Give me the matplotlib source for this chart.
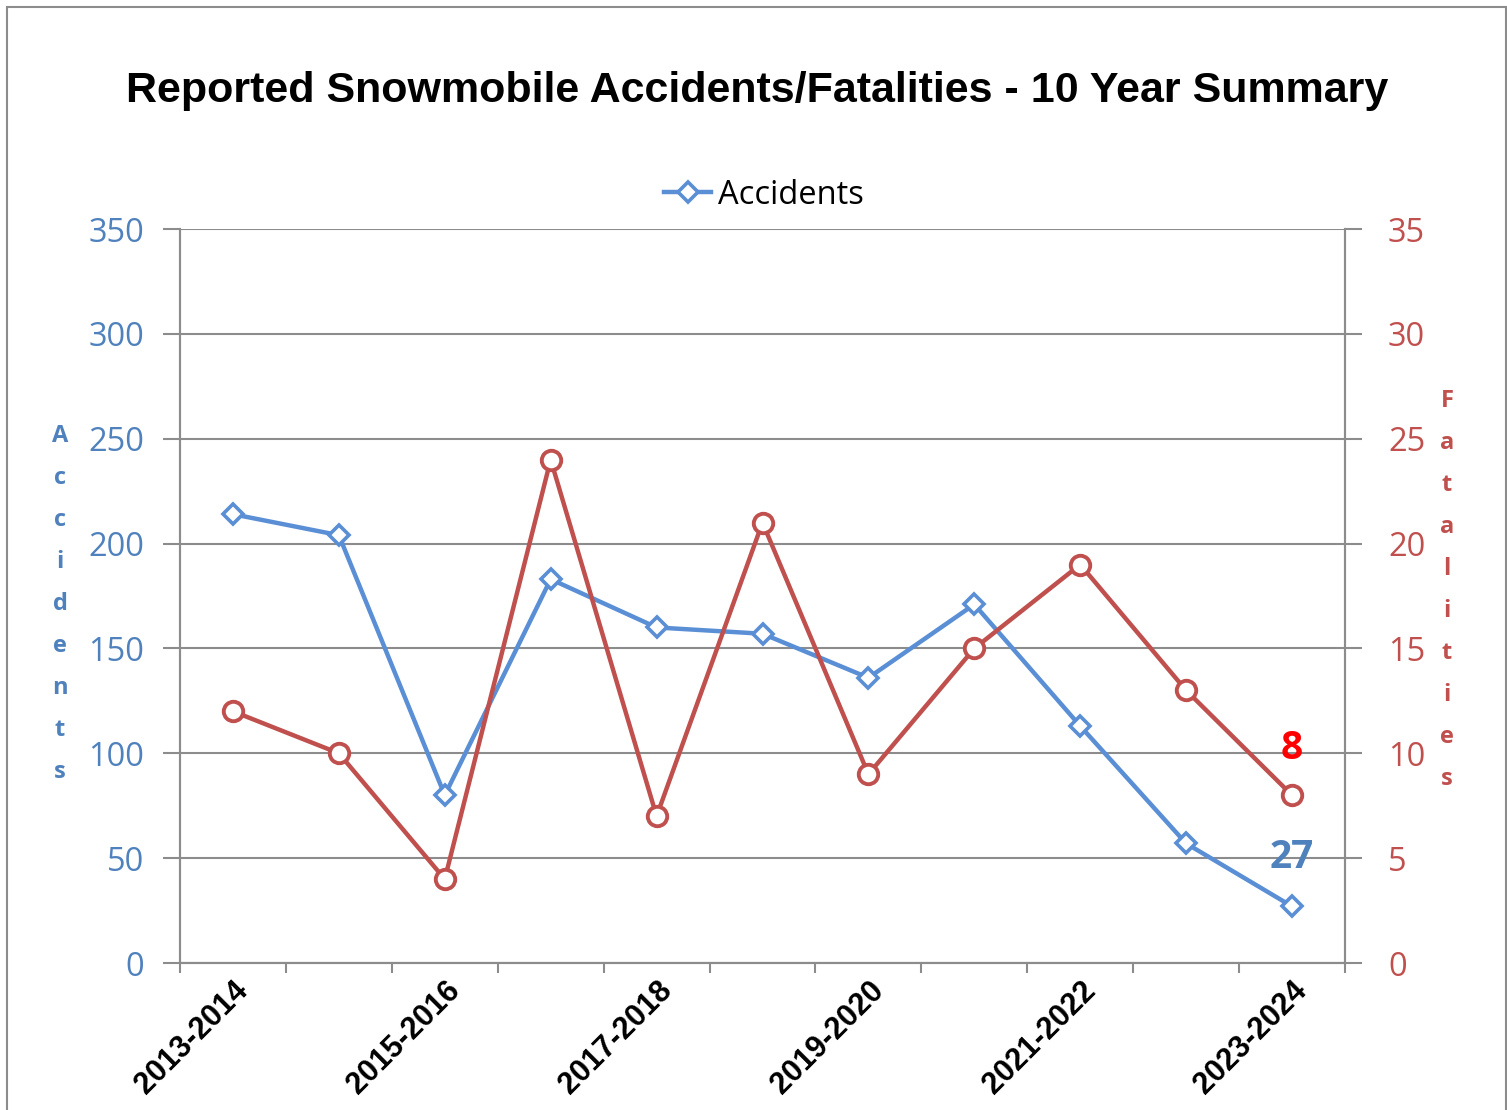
import matplotlib.pyplot as plt
from matplotlib.patches import Rectangle

# data
seasons = ['2013-2014', '2014-2015', '2015-2016', '2016-2017', '2017-2018',
           '2018-2019', '2019-2020', '2020-2021', '2021-2022', '2022-2023',
           '2023-2024']
accidents = [214, 204, 80, 183, 160, 157, 136, 171, 113, 57, 27]
fatalities = [12, 10, 4, 24, 7, 21, 9, 15, 19, 13, 8]

BLUE = '#5A8FD6'
BLUE_TXT = '#4F81BD'
RED = '#C0504D'
GRID = '#8C8C8C'

W, H = 1507, 1110
fig = plt.figure(figsize=(W / 100, H / 100), dpi=100)

# outer chart border
fig.patches.append(Rectangle((7 / W, -0.01), (1506 - 7) / W, 1 - 7 / H + 0.01,
                             transform=fig.transFigure, fill=False,
                             edgecolor='#8C8C8C', linewidth=1.5))

ax = fig.add_axes([180 / W, 1 - 963 / H, (1345 - 180) / W, (963 - 229) / H])
ax2 = ax.twinx()

x = list(range(len(seasons)))

ax.plot(x, accidents, color=BLUE, linewidth=3.2, marker='D', markersize=10,
        markerfacecolor='white', markeredgecolor=BLUE, markeredgewidth=2.6,
        label='Accidents', zorder=3)
ax2.plot(x, fatalities, color=RED, linewidth=3.2, marker='o', markersize=14,
         markerfacecolor='white', markeredgecolor=RED, markeredgewidth=2.8,
         zorder=3)

ax.set_xlim(-0.5, len(seasons) - 0.5)
ax.set_ylim(0, 350)
ax2.set_ylim(0, 35)
ax.set_yticks(range(0, 351, 50))
ax2.set_yticks(range(0, 36, 5))

# category boundaries as tick marks, labels every other season
ax.set_xticks([i - 0.5 for i in range(len(seasons) + 1)])
ax.set_xticklabels([])
ax.set_xticks(x[::2], minor=True)
ax.set_xticklabels(seasons[::2], minor=True, rotation=45, ha='right',
                   va='top', rotation_mode='anchor', fontsize=22,
                   fontweight='bold', family='Liberation Sans')
ax.tick_params(axis='x', which='major', direction='out', length=7,
               color=GRID, width=1.5)
ax.tick_params(axis='x', which='minor', length=0, pad=9)

ax.grid(axis='y', color=GRID, linewidth=1.5)
ax.set_axisbelow(True)
ax.tick_params(axis='y', direction='out', length=12, color=GRID, width=1.5,
               labelcolor=BLUE_TXT, labelsize=23.5, pad=14)
ax2.tick_params(axis='y', direction='out', length=12, color=GRID, width=1.5,
                labelcolor=RED, labelsize=23.5, pad=19)
for lab in ax.get_yticklabels() + ax2.get_yticklabels():
    lab.set_family('Open Sans')

for a in (ax, ax2):
    a.spines['top'].set_visible(False)
    for s in ('left', 'right', 'bottom'):
        a.spines[s].set_color(GRID)
        a.spines[s].set_linewidth(1.5)

# stacked vertical axis titles
fig.text(60 / W, 1 - 604 / H, '\n'.join('Accidents'), ha='center',
         va='center', color=BLUE_TXT, fontsize=17, fontweight='bold',
         family='Open Sans', linespacing=2.0)
fig.text(1447 / W, 1 - 590 / H, '\n'.join('Fatalities'), ha='center',
         va='center', color=RED, fontsize=17, fontweight='bold',
         family='Open Sans', linespacing=2.0)

# latest values
ax2.text(x[-1], 9.3, str(fatalities[-1]), color='#FF0000', fontsize=28,
         fontweight='bold', ha='center', va='bottom', family='Open Sans')
ax.text(x[-1], 41, str(accidents[-1]), color=BLUE_TXT, fontsize=28,
        fontweight='bold', ha='center', va='bottom', family='Open Sans')

fig.text(757 / W, 1 - 91 / H,
         'Reported Snowmobile Accidents/Fatalities - 10 Year Summary',
         ha='center', va='center', fontsize=31, fontweight='bold',
         family='Liberation Sans')

fig.legend(handles=ax.get_lines()[:1], loc='center',
           bbox_to_anchor=(764 / W, 1 - 195 / H), frameon=False,
           prop={'family': 'Open Sans', 'size': 23.5}, handlelength=1.45,
           handletextpad=0.2)

fig.savefig('out.png', dpi=100)
